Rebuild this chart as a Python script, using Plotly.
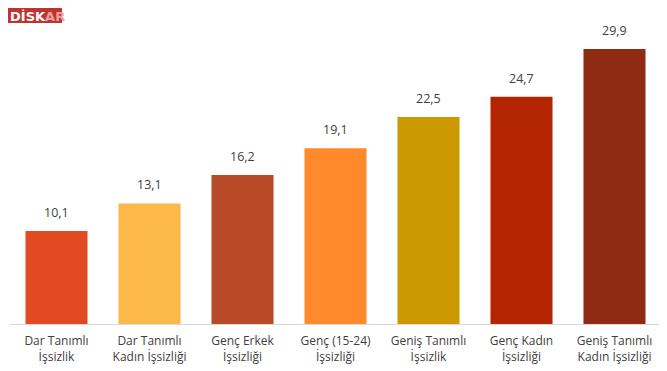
import plotly.graph_objects as go

categories = ["Dar Tanımlı<br>İşsizlik", "Dar Tanımlı<br>Kadın İşsizliği", "Genç Erkek<br>İşsizliği",
              "Genç (15-24)<br>İşsizliği", "Geniş Tanımlı<br>İşsizlik", "Genç Kadın<br>İşsizliği",
              "Geniş Tanımlı<br>Kadın İşsizliği"]
values = [10.1, 13.1, 16.2, 19.1, 22.5, 24.7, 29.9]
value_labels = ["10,1", "13,1", "16,2", "19,1", "22,5", "24,7", "29,9"]
colors = ["#E24A22", "#FDB84A", "#B84A28", "#FF8A2B", "#CC9A00", "#B22500", "#8E2B12"]

# page body has an 8px margin; compensate so the plot lands where the reference has it
OFF = 8
W, H = 667 - OFF, 371 - OFF
ml, mr, mt, mb = 10 - OFF, 6, 20 - OFF, 47

fig = go.Figure(go.Bar(
    x=categories, y=values, marker_color=colors, marker_line_width=0,
))

for c, v, t in zip(categories, values, value_labels):
    fig.add_annotation(x=c, y=v, text=t, showarrow=False, yanchor="bottom", yshift=8,
                       font=dict(size=12.5, color="#404040", family="Open Sans, sans-serif"))

fig.update_layout(
    width=W, height=H, margin=dict(l=ml, r=mr, t=mt, b=mb),
    plot_bgcolor="white", paper_bgcolor="white", bargap=0.333, showlegend=False,
    font=dict(family="Open Sans, sans-serif", color="#404040"),
    xaxis=dict(showline=True, linecolor="#D9D9D9", linewidth=1, ticks="", automargin=False,
               ticklabelstandoff=6, tickfont=dict(size=12, color="#404040")),
    yaxis=dict(range=[0, 33.04], visible=False, showgrid=False),
)

# logo
pw, ph = W - ml - mr, H - mt - mb
fig.add_shape(type="rect", xref="paper", yref="paper",
              x0=-ml / pw, x1=(62 - OFF - ml) / pw,
              y0=1 + (mt - (23 - OFF)) / ph, y1=1 + (mt + 1) / ph,
              fillcolor="#C0332E", line_width=0, layer="above")
fig.add_annotation(xref="paper", yref="paper", x=-ml / pw, y=1 + (mt + 1) / ph,
                   text="<b>DİSK</b><span style='color:#E8A0A0'><b>AR</b></span>", showarrow=False,
                   xanchor="left", yanchor="top",
                   font=dict(size=13, color="white", family="DejaVu Sans"))

fig.write_html("out.html")
